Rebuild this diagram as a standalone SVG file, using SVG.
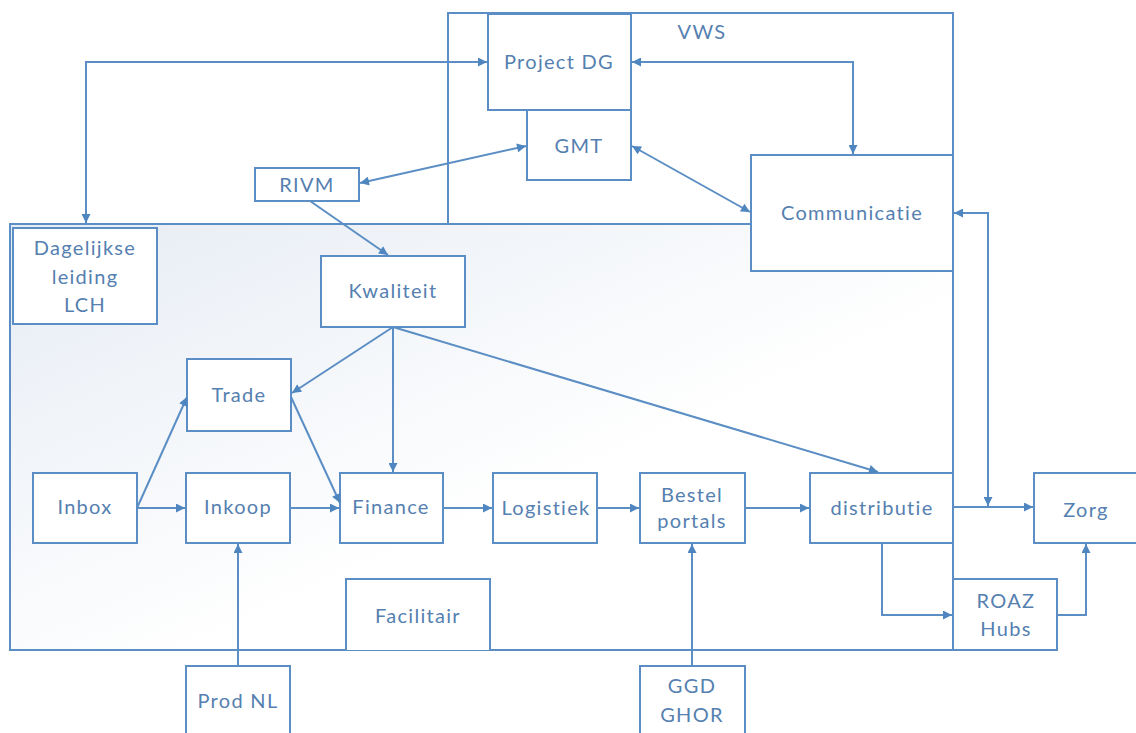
<svg xmlns="http://www.w3.org/2000/svg" width="1136" height="733" viewBox="0 0 1136 733">
<defs>
<style>
.b{fill:#fff;stroke:#5b8ec4;stroke-width:2}
.c{fill:none;stroke:#5b8ec4;stroke-width:2}
.t{font-family:Lato,"Open Sans",sans-serif;font-size:20px;fill:#5580b0;text-anchor:middle;letter-spacing:1.3px}
</style>
<linearGradient id="g" x1="0" y1="0" x2="1" y2="1">
<stop offset="0" stop-color="#e6ecf4"/>
<stop offset="0.6" stop-color="#ffffff"/>
<stop offset="1" stop-color="#ffffff"/>
</linearGradient>
<marker id="a" viewBox="0 0 10 10" refX="10" refY="5" markerWidth="10" markerHeight="9" markerUnits="userSpaceOnUse" orient="auto-start-reverse">
<path d="M0,0 L10,5 L0,10 z" fill="#4f86c0"/>
</marker>
</defs>
<rect width="1136" height="733" fill="#fff"/>
<g id="vws"><rect x="448" y="13" width="505" height="211" fill="#fff" stroke="#5b8ec4" stroke-width="2"/><text class="t" x="702" y="39">VWS</text></g>
<g id="lch"><rect x="10" y="224" width="943" height="426" fill="url(#g)" stroke="#5b8ec4" stroke-width="2"/></g>
<g id="projectdg"><rect class="b" x="488" y="14" width="143" height="96"/><text class="t" x="559" y="69">Project DG</text></g>
<g id="gmt"><rect class="b" x="527" y="110" width="104" height="70"/><text class="t" x="579" y="153">GMT</text></g>
<g id="communicatie"><rect class="b" x="751" y="155" width="202" height="116"/><text class="t" x="852" y="220">Communicatie</text></g>
<g id="rivm"><rect class="b" x="255" y="168" width="104" height="33"/><text class="t" x="307" y="192">RIVM</text></g>
<g id="dagelijkse"><rect class="b" x="13" y="228" width="144" height="96"/><text class="t" x="85" y="255">Dagelijkse</text><text class="t" x="85" y="284">leiding</text><text class="t" x="85" y="312">LCH</text></g>
<g id="kwaliteit"><rect class="b" x="321" y="256" width="144" height="71"/><text class="t" x="393" y="298">Kwaliteit</text></g>
<g id="trade"><rect class="b" x="187" y="359" width="104" height="72"/><text class="t" x="239" y="402">Trade</text></g>
<g id="inbox"><rect class="b" x="33" y="473" width="104" height="70"/><text class="t" x="85" y="514">Inbox</text></g>
<g id="inkoop"><rect class="b" x="186" y="473" width="104" height="70"/><text class="t" x="238" y="514">Inkoop</text></g>
<g id="finance"><rect class="b" x="340" y="473" width="103" height="70"/><text class="t" x="391" y="514">Finance</text></g>
<g id="logistiek"><rect class="b" x="493" y="473" width="104" height="70"/><text class="t" x="546" y="515">Logistiek</text></g>
<g id="bestel"><rect class="b" x="640" y="473" width="105" height="70"/><text class="t" x="692" y="502">Bestel</text><text class="t" x="692" y="528">portals</text></g>
<g id="distributie"><rect class="b" x="810" y="473" width="143" height="70"/><text class="t" x="882" y="515">distributie</text></g>
<g id="zorg"><rect class="b" x="1034" y="473" width="110" height="70"/><text class="t" x="1086" y="517">Zorg</text></g>
<g id="roaz"><rect class="b" x="953" y="579" width="104" height="71"/><text class="t" x="1006" y="608">ROAZ</text><text class="t" x="1006" y="636">Hubs</text></g>
<g id="facilitair"><path d="M346,650 V579 H490 V650" class="b"/><text class="t" x="418" y="623">Facilitair</text></g>
<g id="prodnl"><rect class="b" x="186" y="666" width="104" height="80"/><text class="t" x="238" y="708">Prod NL</text></g>
<g id="ggd"><rect class="b" x="640" y="666" width="105" height="80"/><text class="t" x="692" y="693">GGD</text><text class="t" x="692" y="722">GHOR</text></g>
<g id="connectors">
<path class="c" d="M86,223 V62 H487" marker-start="url(#a)" marker-end="url(#a)"/>
<path class="c" d="M632,62 H853 V154" marker-start="url(#a)" marker-end="url(#a)"/>
<path class="c" d="M632,146 L750,212" marker-start="url(#a)" marker-end="url(#a)"/>
<path class="c" d="M360,183 L526,146" marker-start="url(#a)" marker-end="url(#a)"/>
<path class="c" d="M310,201 L388,255" marker-end="url(#a)"/>
<path class="c" d="M954,213 H988 V506" marker-start="url(#a)" marker-end="url(#a)"/>
<path class="c" d="M393,327 L292,393" marker-end="url(#a)"/>
<path class="c" d="M393,327 V472" marker-end="url(#a)"/>
<path class="c" d="M393,327 L878,472" marker-end="url(#a)"/>
<path class="c" d="M137,508 L187,397" marker-end="url(#a)"/>
<path class="c" d="M291,397 L340,503" marker-end="url(#a)"/>
<path class="c" d="M137,508 H185" marker-end="url(#a)"/>
<path class="c" d="M290,508 H339" marker-end="url(#a)"/>
<path class="c" d="M443,508 H492" marker-end="url(#a)"/>
<path class="c" d="M597,508 H639" marker-end="url(#a)"/>
<path class="c" d="M745,508 H809" marker-end="url(#a)"/>
<path class="c" d="M953,507 H1033" marker-end="url(#a)"/>
<path class="c" d="M882,543 V615 H952" marker-end="url(#a)"/>
<path class="c" d="M1057,615 H1086 V544" marker-end="url(#a)"/>
<path class="c" d="M238,666 V544" marker-end="url(#a)"/>
<path class="c" d="M692,666 V544" marker-end="url(#a)"/>
</g>
</svg>
